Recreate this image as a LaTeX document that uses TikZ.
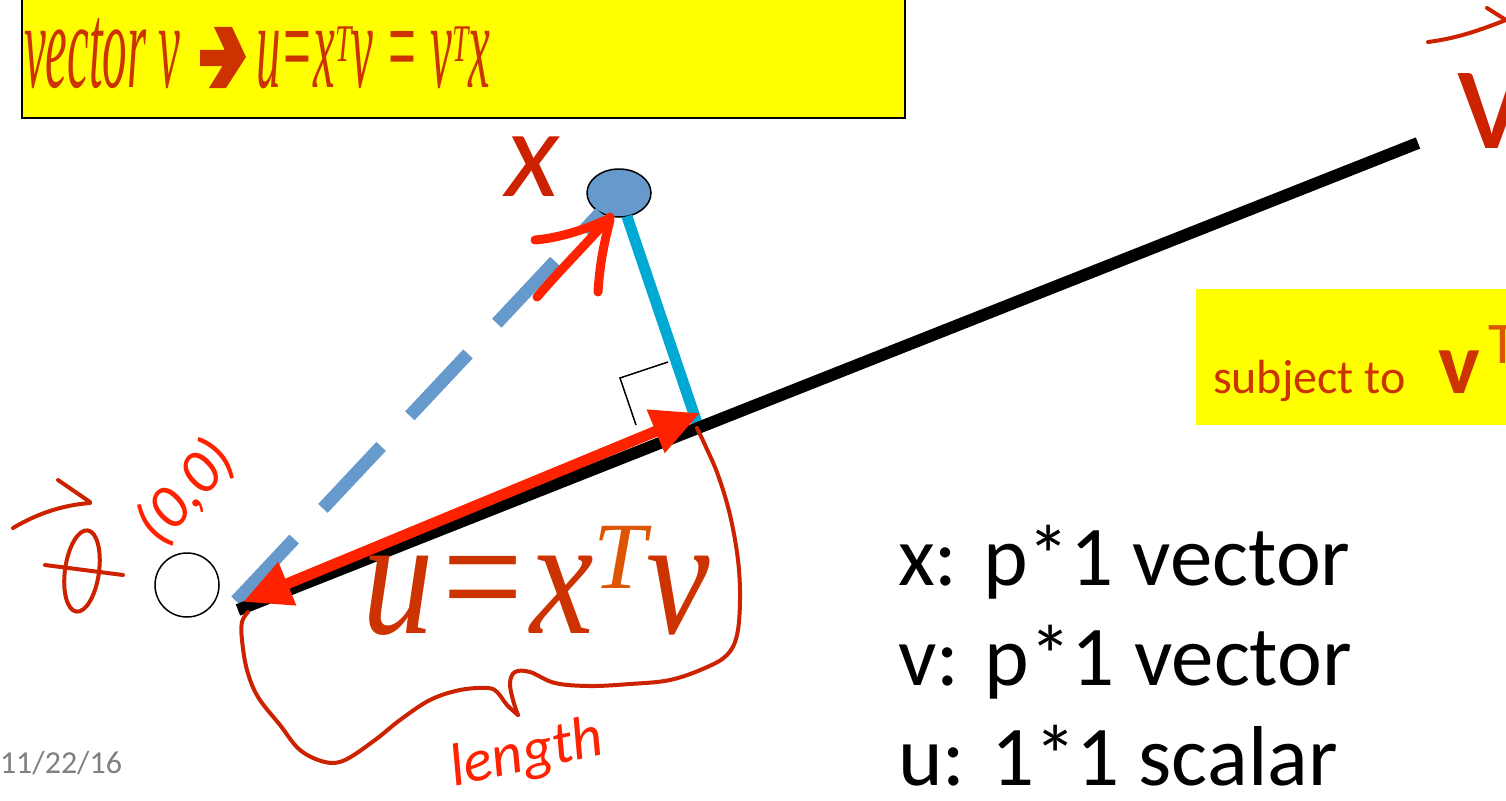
\documentclass[tikz,border=0pt]{standalone}
\usepackage{fontspec}
\usepackage{graphicx}
\setmainfont{Liberation Serif}
\newfontfamily\calibri{Carlito}
\usetikzlibrary{shapes.geometric,arrows.meta}
\definecolor{slideyellow}{HTML}{FFFF00}
\definecolor{eqred}{HTML}{CC3300}
\definecolor{suporange}{HTML}{DD5500}
\definecolor{inkred}{HTML}{CC2200}
\definecolor{inkbright}{HTML}{FF2200}
\definecolor{pointblue}{HTML}{6699CC}
\definecolor{perpcyan}{HTML}{00A9D4}
\newcommand{\fs}[1]{\fontsize{#1}{#1}\selectfont}
\newcommand{\tall}[1]{\scalebox{0.5}[1.25]{#1}}
\newcommand{\topT}{\scalebox{0.55}[1]{\raisebox{26pt}{\fs{53}T}}}

\begin{document}
\begin{tikzpicture}[x=1pt,y=-1pt,
  every node/.style={inner sep=0pt,outer sep=0pt},
  slidebox/.style={fill=slideyellow},
  axisline/.style={line width=12pt,black},
  dashline/.style={line width=13pt,pointblue,dash pattern=on 85pt off 42pt},
  perpline/.style={line width=11pt,perpcyan},
  projarrow/.style={line width=11pt,inkbright,{Triangle[length=48pt,width=44pt]}-{Triangle[length=48pt,width=44pt]}},
  ink/.style={inkred,line width=4pt,line cap=round,line join=round},
  thickink/.style={inkbright,line width=9pt,line cap=round,line join=round},
  eqtext/.style={anchor=base west,text=eqred},
  listtext/.style={anchor=base west,font=\calibri\fs{85}}]
\useasboundingbox (0,0) rectangle (1506,800);
\clip (0,0) rectangle (1506,800);

\node[slidebox,draw=black,line width=1.5pt,anchor=south west,minimum width=883pt,minimum height=150pt] (topbox) at (22,118) {};
\node[eqtext,font=\itshape\fs{98}] (vtext) at (24,88) {\tall{vector v}};
\fill[eqred] (200,50) -- (224.7,50) -- (214,27) -- (232,27) -- (246,57) -- (226,88) -- (209,88) -- (222.5,66) -- (200,66) -- cycle;
\node[eqtext,font=\itshape\fs{98}] (eqtop) at (256,88) {\tall{u=x}\topT\tall{v = v}\topT\tall{x}};

\node[slidebox,anchor=north west,minimum width=330pt,minimum height=136pt] (subjbox) at (1196,289) {};
\node[eqtext,font=\calibri\fs{48}] (subj) at (1213,393) {subject to};
\node[eqtext,font=\calibri\bfseries\fs{88}] (vt) at (1438,393) {v};
\node[anchor=base west,text=suporange,font=\calibri\fs{59}] (vtsup) at (1488,363) {T};

\coordinate (orig) at (238,610);
\coordinate (vend) at (1418,143);
\coordinate (foot) at (697,423);
\coordinate (dstart) at (236,601);
\coordinate (ua) at (243,602);
\coordinate (ub) at (700,413);
\node[ellipse,draw,fill=pointblue,line width=1.5pt,minimum width=64pt,minimum height=48pt] (xpt) at (619,193) {};
\node[circle,draw,fill=white,line width=1.5pt,minimum size=64pt] (zero) at (187,585) {};

\draw[dashline] (dstart) -- (xpt);
\draw[perpline] (xpt) -- (foot);
\draw[axisline] (orig) -- (vend);
\draw[black,line width=1.5pt] (668,362) -- (620,378) -- (636,425);
\draw[projarrow] (ua) -- (ub);

\node[eqtext,font=\itshape\fs{143}] (ueq) at (362,633) {\scalebox{1}[1.18]{u=x}\raisebox{45pt}{\textcolor{suporange}{\fs{95}T}}\scalebox{1}[1.18]{v}};

\node[listtext] (xdef) at (898,585) {x: p*1 vector};
\node[listtext] (vdef) at (898,685) {v: p*1 vector};
\node[listtext] (udef) at (898,785) {u: 1*1 scalar};
\node[anchor=base west,text=black!50,font=\calibri\fs{32}] (date) at (0,773) {11/22/16};

\node[anchor=base,text=inkred,font=\calibri\itshape\fs{125}] (xlabel) at (533,196) {x};
\node[text=inkbright,font=\calibri\itshape\fs{62},rotate=48] (origlabel) at (186,492) {(0,0)};
\node[text=inkbright,font=\calibri\itshape\fs{60},rotate=12] (lenlabel) at (527,755) {length};
\node[anchor=base west,text=inkred,font=\calibri\fs{157}] (vlabel) at (1456,148) {v};

\draw[ink] (1428,42) .. controls (1460,38) and (1485,28) .. (1506,20);
\draw[ink] (1487,8) -- (1506,20);
\draw[thickink] (537,297) .. controls (560,270) and (590,240) .. (610,217);
\draw[thickink] (535,240) .. controls (560,238) and (590,228) .. (610,218);
\draw[thickink] (598,292) .. controls (600,260) and (605,240) .. (610,220);
\draw[ink,rotate around={-8:(82,571)}] (82,571) ellipse [x radius=17, y radius=41];
\draw[ink] (45,565) -- (123,575);
\draw[ink] (13,528) .. controls (40,512) and (65,505) .. (90,503);
\draw[ink] (58,480) -- (90,502);
\draw[ink] plot[smooth,tension=0.6] coordinates {(697,428) (705,445) (718,475) (730,515) (738,560) (740,600) (737,635) (727,655) (705,668) (670,680) (630,684) (590,686) (555,683) (530,672) (515,672) (510,683) (513,700) (518,715)};
\draw[ink] plot[smooth,tension=0.6] coordinates {(518,715) (507,705) (497,692) (487,688) (460,690) (430,700) (400,720) (375,740) (345,760) (325,762) (300,750) (280,725) (258,697) (247,670) (242,640) (242,622) (248,612)};
\end{tikzpicture}
\end{document}
